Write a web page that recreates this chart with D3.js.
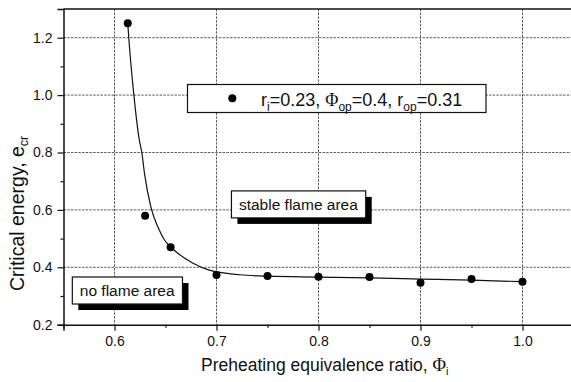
<!DOCTYPE html>
<html>
<head>
<meta charset="utf-8">
<script src="https://cdn.jsdelivr.net/npm/d3@7"></script>
<style>
  html, body { margin: 0; padding: 0; background: #fff; }
  svg { display: block; font-family: "Liberation Sans", Arial, sans-serif; }
</style>
</head>
<body>
<svg id="chart" width="571" height="382"></svg>
<script>
// Measured points: critical energy vs. preheating equivalence ratio
const phi = [0.613, 0.63, 0.655, 0.70, 0.75, 0.80, 0.85, 0.90, 0.95, 1.00];
const ecr = [1.25, 0.58, 0.47, 0.373, 0.370, 0.367, 0.366, 0.346, 0.359, 0.350];

// Fitted trend curve, sampled along its path
const fitPhi = [0.613, 0.614, 0.619, 0.6245, 0.6268, 0.6294, 0.636, 0.6425, 0.649, 0.6557, 0.677, 0.693, 0.723, 0.75, 0.80, 0.85, 0.90, 0.95, 1.00];
const fitEcr = [1.25, 1.20, 1.00, 0.84, 0.80, 0.727, 0.605, 0.541, 0.495, 0.469, 0.414, 0.390, 0.374, 0.369, 0.366, 0.363, 0.359, 0.355, 0.350];

// Axis ticks
const xMajor = [0.6, 0.7, 0.8, 0.9, 1.0];
const xMinor = [0.55, 0.65, 0.75, 0.85, 0.95];
const yMajor = [0.2, 0.4, 0.6, 0.8, 1.0, 1.2];
const yMinor = [0.3, 0.5, 0.7, 0.9, 1.1];

// Region annotations (text start position in data units)
const regionLabels = ["stable flame area", "no flame area"];
const regionAnchors = [[0.722, 0.60], [0.566, 0.30]];

const svg = d3.select("#chart");
const plotL = 63.5, plotR = 573.5, plotT = 9, plotB = 324.7;

const x = d3.scaleLinear().domain([0.55, 1.05]).range([plotL, plotR]);
const y = d3.scaleLinear().domain([0.2, 1.3]).range([plotB, plotT]);

// Grid lines at major ticks
const grid = svg.append("g").attr("stroke", "#333").attr("stroke-width", 0.8)
  .attr("stroke-dasharray", "2.5,1.2");
grid.selectAll(".gx").data(xMajor).join("line")
  .attr("x1", d => x(d)).attr("x2", d => x(d)).attr("y1", plotT).attr("y2", plotB);
grid.selectAll(".gy").data(yMajor.filter(d => d > 0.2)).join("line")
  .attr("y1", d => y(d)).attr("y2", d => y(d)).attr("x1", plotL).attr("x2", plotR);

// Frame: top border
svg.append("line").attr("x1", plotL).attr("x2", plotR).attr("y1", plotT).attr("y2", plotT)
  .attr("stroke", "#111").attr("stroke-width", 1.5);

// Axes
svg.append("g").attr("transform", `translate(0,${plotB})`)
  .call(d3.axisBottom(x).tickValues(xMajor).tickFormat(d3.format(".1f")).tickSize(6).tickPadding(5));
svg.append("g").attr("transform", `translate(0,${plotB})`)
  .call(d3.axisBottom(x).tickValues(xMinor).tickFormat("").tickSize(3))
  .call(g => g.select(".domain").remove());
svg.append("g").attr("transform", `translate(${plotL},0)`)
  .call(d3.axisLeft(y).tickValues(yMajor).tickFormat(d3.format(".1f")).tickSize(6).tickPadding(5));
svg.append("g").attr("transform", `translate(${plotL},0)`)
  .call(d3.axisLeft(y).tickValues(yMinor).tickFormat("").tickSize(3))
  .call(g => g.select(".domain").remove());

svg.selectAll(".domain").attr("stroke", "#111").attr("stroke-width", 1.5);
svg.selectAll(".tick line").attr("stroke", "#111").attr("stroke-width", 1.2);
svg.selectAll(".tick text").attr("font-family", "Liberation Sans, Arial, sans-serif")
  .attr("font-size", 14).attr("fill", "#111");

// Fitted curve
const fit = fitPhi.map((p, i) => [p, fitEcr[i]]);
svg.append("path").datum(fit)
  .attr("fill", "none").attr("stroke", "#111").attr("stroke-width", 1.2)
  .attr("d", d3.line().x(d => x(d[0])).y(d => y(d[1])).curve(d3.curveMonotoneX));

// Data points
svg.append("g").selectAll("circle").data(phi.map((p, i) => [p, ecr[i]])).join("circle")
  .attr("cx", d => x(d[0])).attr("cy", d => y(d[1])).attr("r", 4).attr("fill", "#000");

// Legend
const leg = svg.append("g");
leg.append("rect").attr("x", 187.5).attr("y", 84.5).attr("width", 298.5).attr("height", 28)
  .attr("fill", "#fff").attr("stroke", "#111").attr("stroke-width", 1.2);
leg.append("circle").attr("cx", 232.3).attr("cy", 98.3).attr("r", 4).attr("fill", "#000");
const lt = leg.append("text").attr("x", 261).attr("y", 105.5).attr("font-size", 18).attr("fill", "#111");
const sub = (t, s) => t.append("tspan").attr("font-size", 12).attr("dy", 5).text(s);
const up = (t, s) => t.append("tspan").attr("dy", -5).text(s);
lt.append("tspan").text("r");
sub(lt, "i");
up(lt, "=0.23, ");
lt.append("tspan").attr("font-family", "Liberation Serif, serif").text("Φ");
sub(lt, "op");
up(lt, "=0.4, r");
sub(lt, "op");
up(lt, "=0.31");

// Region annotation boxes with drop shadows
regionLabels.forEach((label, i) => {
  const g = svg.append("g");
  const tx = x(regionAnchors[i][0]), ty = y(regionAnchors[i][1]);
  const t = g.append("text").attr("x", tx).attr("y", ty).attr("font-size", 15.5).attr("fill", "#111").text(label);
  const bb = t.node().getBBox();
  const bx = bb.x - 7.5, by = bb.y - 5, bw = bb.width + 15, bh = bb.height + 10;
  g.insert("rect", "text").attr("x", bx + 6).attr("y", by + 6).attr("width", bw).attr("height", bh).attr("fill", "#000");
  g.insert("rect", "text").attr("x", bx).attr("y", by).attr("width", bw).attr("height", bh)
    .attr("fill", "#fff").attr("stroke", "#111").attr("stroke-width", 1.2);
});

// Axis titles
const xt = svg.append("text").attr("x", 201).attr("y", 371).attr("font-size", 17.5).attr("fill", "#111");
xt.append("tspan").text("Preheating equivalence ratio, ");
xt.append("tspan").attr("font-family", "Liberation Serif, serif").attr("font-size", 18.5).text("Φ");
xt.append("tspan").attr("font-size", 11).attr("dy", 4).text("i");

const yt = svg.append("text").attr("transform", "translate(23.5,291) rotate(-90)").attr("font-size", 19.5).attr("fill", "#111");
yt.append("tspan").text("Critical energy, e");
yt.append("tspan").attr("font-size", 12.5).attr("dy", 4).text("cr");
</script>
</body>
</html>
